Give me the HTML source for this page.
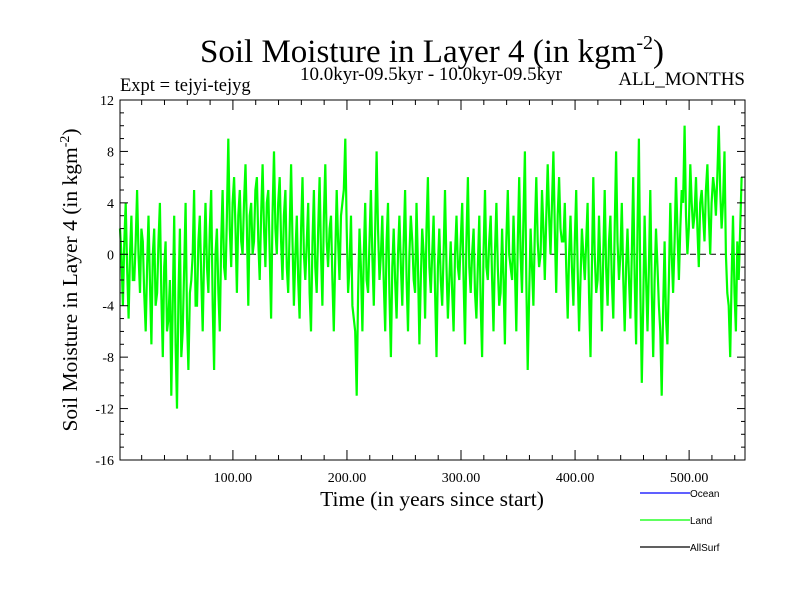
<!DOCTYPE html>
<html><head><meta charset="utf-8"><style>body{margin:0;background:#fff}svg{display:block}</style></head>
<body>
<svg id="chart" width="800" height="600" xmlns="http://www.w3.org/2000/svg" font-family="'Liberation Serif', serif">
<rect width="800" height="600" fill="#fff"/>
<text x="432" y="62" font-size="33" text-anchor="middle">Soil Moisture in Layer 4 (in kgm<tspan dy="-13" font-size="20">-2</tspan><tspan dy="13">)</tspan></text>
<text x="120" y="91" font-size="18.5">Expt = tejyi-tejyg</text>
<text x="431" y="80" font-size="19" text-anchor="middle">10.0kyr-09.5kyr - 10.0kyr-09.5kyr</text>
<text x="745" y="85" font-size="19" text-anchor="end">ALL_MONTHS</text>
<text transform="translate(77,280) rotate(-90)" font-size="21.5" text-anchor="middle">Soil Moisture in Layer 4 (in kgm<tspan dy="-8" font-size="14">-2</tspan><tspan dy="8">)</tspan></text>
<text x="432" y="506" font-size="21.5" text-anchor="middle">Time (in years since start)</text>
<g id="plot"></g>
<g font-family="'Liberation Sans', sans-serif" font-size="10">
<line x1="640" y1="493" x2="690" y2="493" stroke="#0000ff" stroke-width="1.2"/>
<text x="690" y="497">Ocean</text>
<line x1="640" y1="520" x2="690" y2="520" stroke="#00ff00" stroke-width="1.2"/>
<text x="690" y="524">Land</text>
<line x1="640" y1="547" x2="690" y2="547" stroke="#000" stroke-width="1.2"/>
<text x="690" y="551">AllSurf</text>
</g>
</svg>
<script>
const yTicks = [12, 8, 4, 0, -4, -8, -12, -16];
const xTicks = [100, 200, 300, 400, 500];
const xTickLabels = ["100.00", "200.00", "300.00", "400.00", "500.00"];
const tStart = 1, tStep = 1.25;
// samples at even steps
const landValues = [
2,-4,4,-5,3,-2,5,-3,1,-6,
3,-7,2,-3,4,-8,1,-5,-11,3,
-12,2,-6,4,-9,-2,5,-4,3,-6,
4,-3,5,-9,2,-6,5,-2,9,-1,
6,-3,5,0,7,-4,4,1,6,-2,
7,-1,5,-5,8,0,6,-2,5,-3,
7,-4,3,-5,6,-2,4,-6,5,-3,
6,-4,7,-1,3,-6,5,-2,4,9,
-3,3,-5,-11,2,-6,4,-3,5,-4,
8,-2,3,-6,4,-8,2,-5,3,-4,
5,-6,3,-2,4,-7,2,-5,6,-3,
3,-8,2,-4,5,-5,1,-6,3,-2,
4,-7,6,-3,2,-5,3,-8,5,-2,
3,-6,4,-4,2,-7,5,-1,3,-6,
6,-3,8,-9,2,-4,6,-1,5,-2,
7,0,8,-3,6,1,4,-5,3,-4,
5,-6,2,-2,4,-8,6,-3,3,-6,
5,-4,3,-5,8,-2,4,-6,2,-5,
6,-7,9,-10,3,-6,5,-8,2,-4,
-11,1,-7,4,-3,6,-2,5,10,0,
7,2,6,-1,5,1,7,0,6,3,
10,2,8,-3,-8,3,-6,-2,6];
// samples at odd steps (between the above)
const landValuesMid = [
0,1,-1,0,-2,1,0,2,-3,-1,
-2,0,-4,1,-3,-1,-6,-2,-4,-7,
-3,-8,-1,-5,-3,0,-4,1,-2,0,
-1,2,-4,0,-3,1,-1,3,2,4,
2,3,1,4,2,3,0,5,1,3,
2,4,0,3,2,4,1,3,-1,2,
1,0,-2,2,0,1,-3,1,-1,2,
0,3,1,2,-2,0,1,3,5,2,
-1,-4,-6,-3,-1,0,-2,1,0,2,
2,0,-2,1,-3,-1,-2,0,-1,1,
-2,0,1,-3,-1,-2,0,2,-1,0,
-3,-1,-2,0,-1,-2,-3,0,-1,1,
-2,1,-1,0,-3,-1,-4,0,-1,1,
-2,0,-1,-3,-2,1,0,-2,-1,1,
0,3,-2,-3,-1,2,1,0,2,3,
3,4,2,3,2,1,-1,0,-1,1,
-1,-2,0,1,-3,-1,0,-2,-1,0,
-1,1,-2,2,1,0,-2,-1,-2,0,
-2,2,-3,-4,-2,-1,-3,-2,-1,-6,
-4,-5,-2,0,1,2,2,4,3,2,
4,3,2,4,3,5,3,4,5,6,
5,4,0,-4,-2,-3,1,2];

const L=120,R=745,T=100,B=460, tMin=1, tMax=549, yMin=-16, yMax=12;
const xS=t=>L+(t-tMin)/(tMax-tMin)*(R-L);
const yS=v=>B-(v-yMin)/(yMax-yMin)*(B-T);
const NS="http://www.w3.org/2000/svg";
const g=document.getElementById('plot');
function mk(tag,attrs){const e=document.createElementNS(NS,tag);for(const k in attrs)e.setAttribute(k,attrs[k]);g.appendChild(e);return e;}

const z=mk('line',{x1:L,x2:R,y1:yS(0),y2:yS(0),stroke:'#000','stroke-dasharray':'6,4','stroke-width':1});



const series=[];
landValues.forEach((v,i)=>{series.push(v); if(i<landValuesMid.length) series.push(landValuesMid[i]);});
let d='';
series.forEach((v,i)=>{d+=(i?'L':'M')+Math.min(R,xS(tStart+i*tStep)).toFixed(1)+','+yS(v).toFixed(1);});
const p=mk('path',{d:d,fill:'none',stroke:'#00ff00','stroke-width':2.2,'stroke-linejoin':'miter'});



const fr=mk('rect',{x:L,y:T,width:R-L,height:B-T,fill:'none',stroke:'#000','stroke-width':1});



for(let v=yMin;v<=yMax;v++){
  const major=v%4===0, len=major?8:4, y=yS(v);
  const a=mk('line',{x1:L,x2:L+len,y1:y,y2:y,stroke:'#000'});
  
  
  const b=mk('line',{x1:R,x2:R-len,y1:y,y2:y,stroke:'#000'});
  
  
}
yTicks.forEach(v=>{
  const t=mk('text',{x:L-6,y:yS(v)+5,'font-size':14,'text-anchor':'end'});
  t.textContent=v;
  
  
});
for(let t=20;t<=tMax;t+=20){
  const major=t%100===0,len=major?10:5,x=xS(t);
  const a=mk('line',{x1:x,x2:x,y1:B,y2:B-len,stroke:'#000'});
  
  
  const b=mk('line',{x1:x,x2:x,y1:T,y2:T+len,stroke:'#000'});
  
  
}
xTicks.forEach((t,i)=>{
  const e=mk('text',{x:xS(t),y:B+22,'font-size':14,'text-anchor':'middle'});
  e.textContent=xTickLabels[i];
  
  
});
</script>
</body></html>
